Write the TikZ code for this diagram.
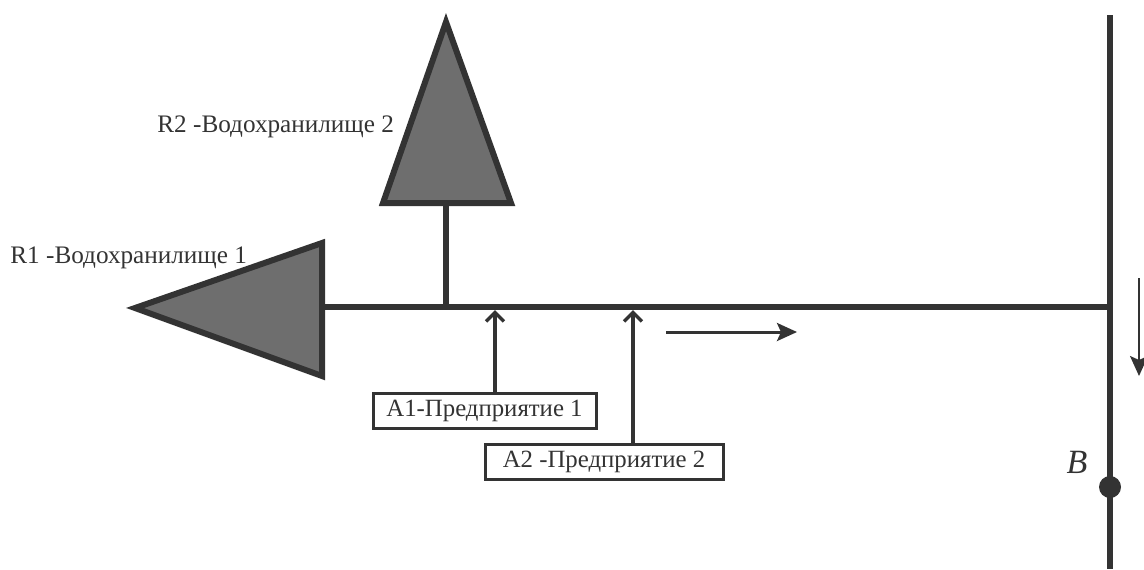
\documentclass[tikz,border=0pt]{standalone}
\usepackage{fontspec}
\setmainfont{Liberation Serif}
\usetikzlibrary{arrows.meta}
\definecolor{inkgray}{HTML}{333333}
\definecolor{resgray}{HTML}{6E6E6E}

\begin{document}
\begin{tikzpicture}[x=0.5pt,y=-0.5pt,
    river/.style={line width=2.6pt,draw=inkgray},
    reservoir/.style={line width=3pt,draw=inkgray,fill=resgray,line join=miter},
    firm/.style={draw=inkgray,line width=1.5pt,inner sep=1pt,minimum height=17.5pt,
      font=\fontsize{12.4}{14}\selectfont,text=inkgray},
    lbl/.style={font=\fontsize{12.6}{14}\selectfont,text=inkgray,inner sep=0pt},
    feed/.style={line width=1.7pt,draw=inkgray,-{Straight Barb[length=4.5pt,width=9pt]}},
    flow/.style={line width=1.5pt,draw=inkgray,-{Stealth[length=10pt,width=9pt,inset=2pt]}}]
  \useasboundingbox (0,0) rectangle (1144,569);
  % main river and the outlet line
  \coordinate (r1base) at (322,307);
  \coordinate (junc) at (1110,307);
  \coordinate (btop) at (1110,15);
  \coordinate (bbot) at (1110,569);
  \draw[river] (r1base) -- (junc);
  \draw[line width=3pt,draw=inkgray] (btop) -- (bbot);
  % reservoirs
  \draw[reservoir] (135,308) -- (322,243) -- (322,376) -- cycle;
  \draw[reservoir] (446,22) -- (511,203) -- (383,203) -- cycle;
  \coordinate (r2base) at (446,203);
  \coordinate (r2foot) at (446,307);
  \draw[river] (r2base) -- (r2foot);
  \node[lbl,anchor=base west] (r1lbl) at (10,263) {R1 -Водохранилище 1};
  \node[lbl,anchor=base west] (r2lbl) at (157,132) {R2 -Водохранилище 2};
  % enterprises
  \node[firm,minimum width=111.5pt] (a1) at (484.5,410.5) {A1-Предприятие 1};
  \node[firm,minimum width=119pt] (a2) at (604,462) {A2 -Предприятие 2};
  \coordinate (in1) at (495,310);
  \coordinate (in2) at (633,310);
  \draw[feed] (in1 |- a1.north) -- (in1);
  \draw[feed] (in2 |- a2.north) -- (in2);
  % flow directions
  \coordinate (fl1) at (666,332);
  \coordinate (fl2) at (797,332);
  \draw[flow] (fl1) -- (fl2);
  \coordinate (dn1) at (1139,278);
  \coordinate (dn2) at (1139,376);
  \draw[flow,line width=1pt] (dn1) -- (dn2);
  % point B
  \fill[inkgray] (1110,487) circle (5.5pt);
  \node[font=\fontsize{17}{19}\selectfont\itshape,text=inkgray] (blbl) at (1077,462) {B};
\end{tikzpicture}
\end{document}
